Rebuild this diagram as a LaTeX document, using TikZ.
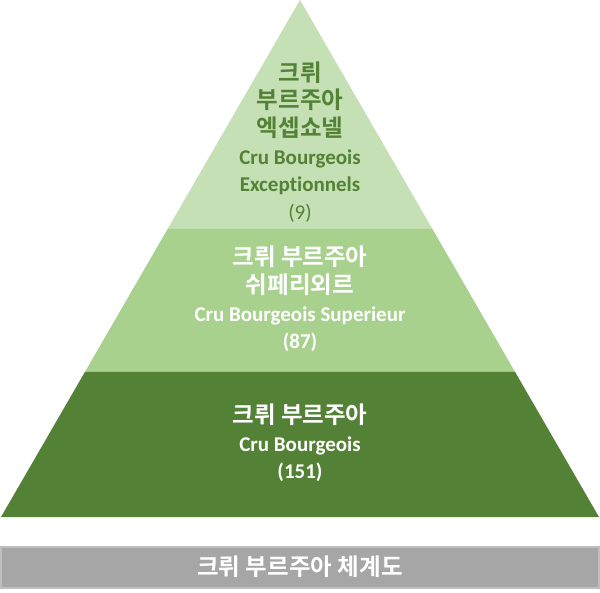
\documentclass[tikz,border=0pt]{standalone}
\usepackage{fontspec}
\setmainfont{Carlito}
\newfontfamily\kr{Noto Sans CJK KR Bold}
\newfontfamily\latb{Carlito Bold}
\definecolor{toplight}{HTML}{C5E0B4}
\definecolor{midgreen}{HTML}{A9D18E}
\definecolor{darkgreen}{HTML}{538135}
\definecolor{bargray}{HTML}{A6A6A6}
\definecolor{barline}{HTML}{BFBFBF}
\newcommand{\krb}[1]{{\kr\fontsize{23.5}{27.6}\selectfont #1}}
\newcommand{\lat}[1]{{\latb #1}}

\begin{document}
\begin{tikzpicture}[x=1pt,y=-1pt,
    tiertext/.style={align=center,font=\fontsize{21}{27.6}\selectfont},
    toptext/.style={tiertext,text=darkgreen},
    lowtext/.style={tiertext,text=white}]
  \useasboundingbox (0,0) rectangle (600,593);

  \fill[toplight] (300,0) -- (432.4,229) -- (167.6,229) -- cycle;
  \fill[midgreen] (167.6,229) -- (432.4,229) -- (515.1,372) -- (84.9,372) -- cycle;
  \fill[darkgreen] (84.9,372) -- (515.1,372) -- (599,517) -- (1,517) -- cycle;
  \draw[barline,fill=bargray,line width=1.5pt] (1,547) rectangle (599,588);

  \node[toptext] (exc) at (300,142) {\krb{크뤼}\\\krb{부르주아}\\\krb{엑셉쇼넬}\\
    \lat{Cru Bourgeois}\\\lat{Excep\mbox{t}ionnels}\\(9)};
  \node[lowtext] (sup) at (300,299) {\krb{크뤼 부르주아}\\\krb{쉬페리외르}\\
    \lat{Cru Bourgeois Superieur}\\\lat{(87)}};
  \node[lowtext] (cb) at (300,443) {\krb{크뤼 부르주아}\\\lat{Cru Bourgeois}\\\lat{(151)}};
  \node[lowtext] (title) at (300,567) {\krb{크뤼 부르주아 체계도}};
\end{tikzpicture}
\end{document}
